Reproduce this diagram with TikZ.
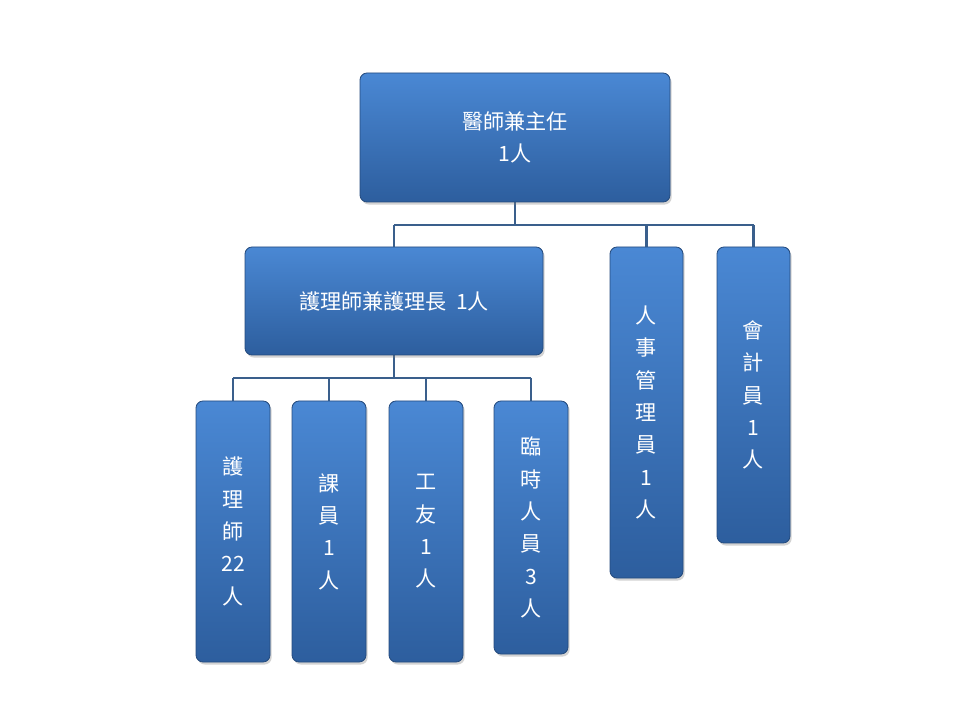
\documentclass[tikz,border=0pt]{standalone}
\usepackage{fontspec}
\newfontfamily\cjk{Noto Sans CJK TC}
\usepackage{tikz}
\usetikzlibrary{shadows}

\definecolor{boxtop}{HTML}{4A88D4}
\definecolor{boxbot}{HTML}{2D5E9E}
\definecolor{linkcol}{HTML}{3A5F8C}

\tikzset{
  unit/.style={draw=boxbot!80!black, line width=0.6pt, rounded corners=5pt,
    top color=boxtop, bottom color=boxbot, text=white, align=center,
    font=\cjk\fontsize{15}{23}\selectfont, inner sep=0pt,
    drop shadow={shadow xshift=1.2pt, shadow yshift=-1.8pt, opacity=0.35}},
  link/.style={draw=linkcol, line width=1.6pt}
}

\begin{document}
\begin{tikzpicture}[x=0.025cm,y=-0.025cm]
  \useasboundingbox (0,0) rectangle (960,720);
  % connectors first, boxes drawn on top
  \coordinate (bus1) at (515,225);
  \coordinate (bus2) at (394,378);
  \draw[link] (515,202) -- (bus1);
  \draw[link] (394,225) -- (754,225);
  \foreach \x in {394,646.5,753.5}
    \draw[link] (\x,225) -- (\x,248);
  \draw[link] (394,355) -- (bus2);
  \draw[link] (233,378) -- (531,378);
  \foreach \x in {233,329,426,531}
    \draw[link] (\x,378) -- (\x,402);
  % top level
  \node[unit, minimum width=310*0.025cm, minimum height=129*0.025cm] (chief) at (515,137.5) {醫師兼主任\\1人};
  % second level
  \node[unit, minimum width=298*0.025cm, minimum height=108*0.025cm] (head) at (394,301) {護理師兼護理長\ \ 1人};
  \node[unit, minimum width=73*0.025cm, minimum height=331*0.025cm] (staff) at (646.5,412.5) {人\\事\\管\\理\\員\\1\\人};
  \node[unit, minimum width=73*0.025cm, minimum height=296*0.025cm] (acct) at (753.5,395) {會\\計\\員\\1\\人};
  % third level
  \node[unit, minimum width=74*0.025cm, minimum height=261*0.025cm] (nurse) at (233,531.5) {護\\理\\師\\22\\人};
  \node[unit, minimum width=74*0.025cm, minimum height=261*0.025cm] (clerk) at (329,531.5) {課\\員\\1\\人};
  \node[unit, minimum width=74*0.025cm, minimum height=261*0.025cm] (worker) at (426,531.5) {工\\友\\1\\人};
  \node[unit, minimum width=74*0.025cm, minimum height=253*0.025cm] (temp) at (531,527.5) {臨\\時\\人\\員\\3\\人};
\end{tikzpicture}
\end{document}
